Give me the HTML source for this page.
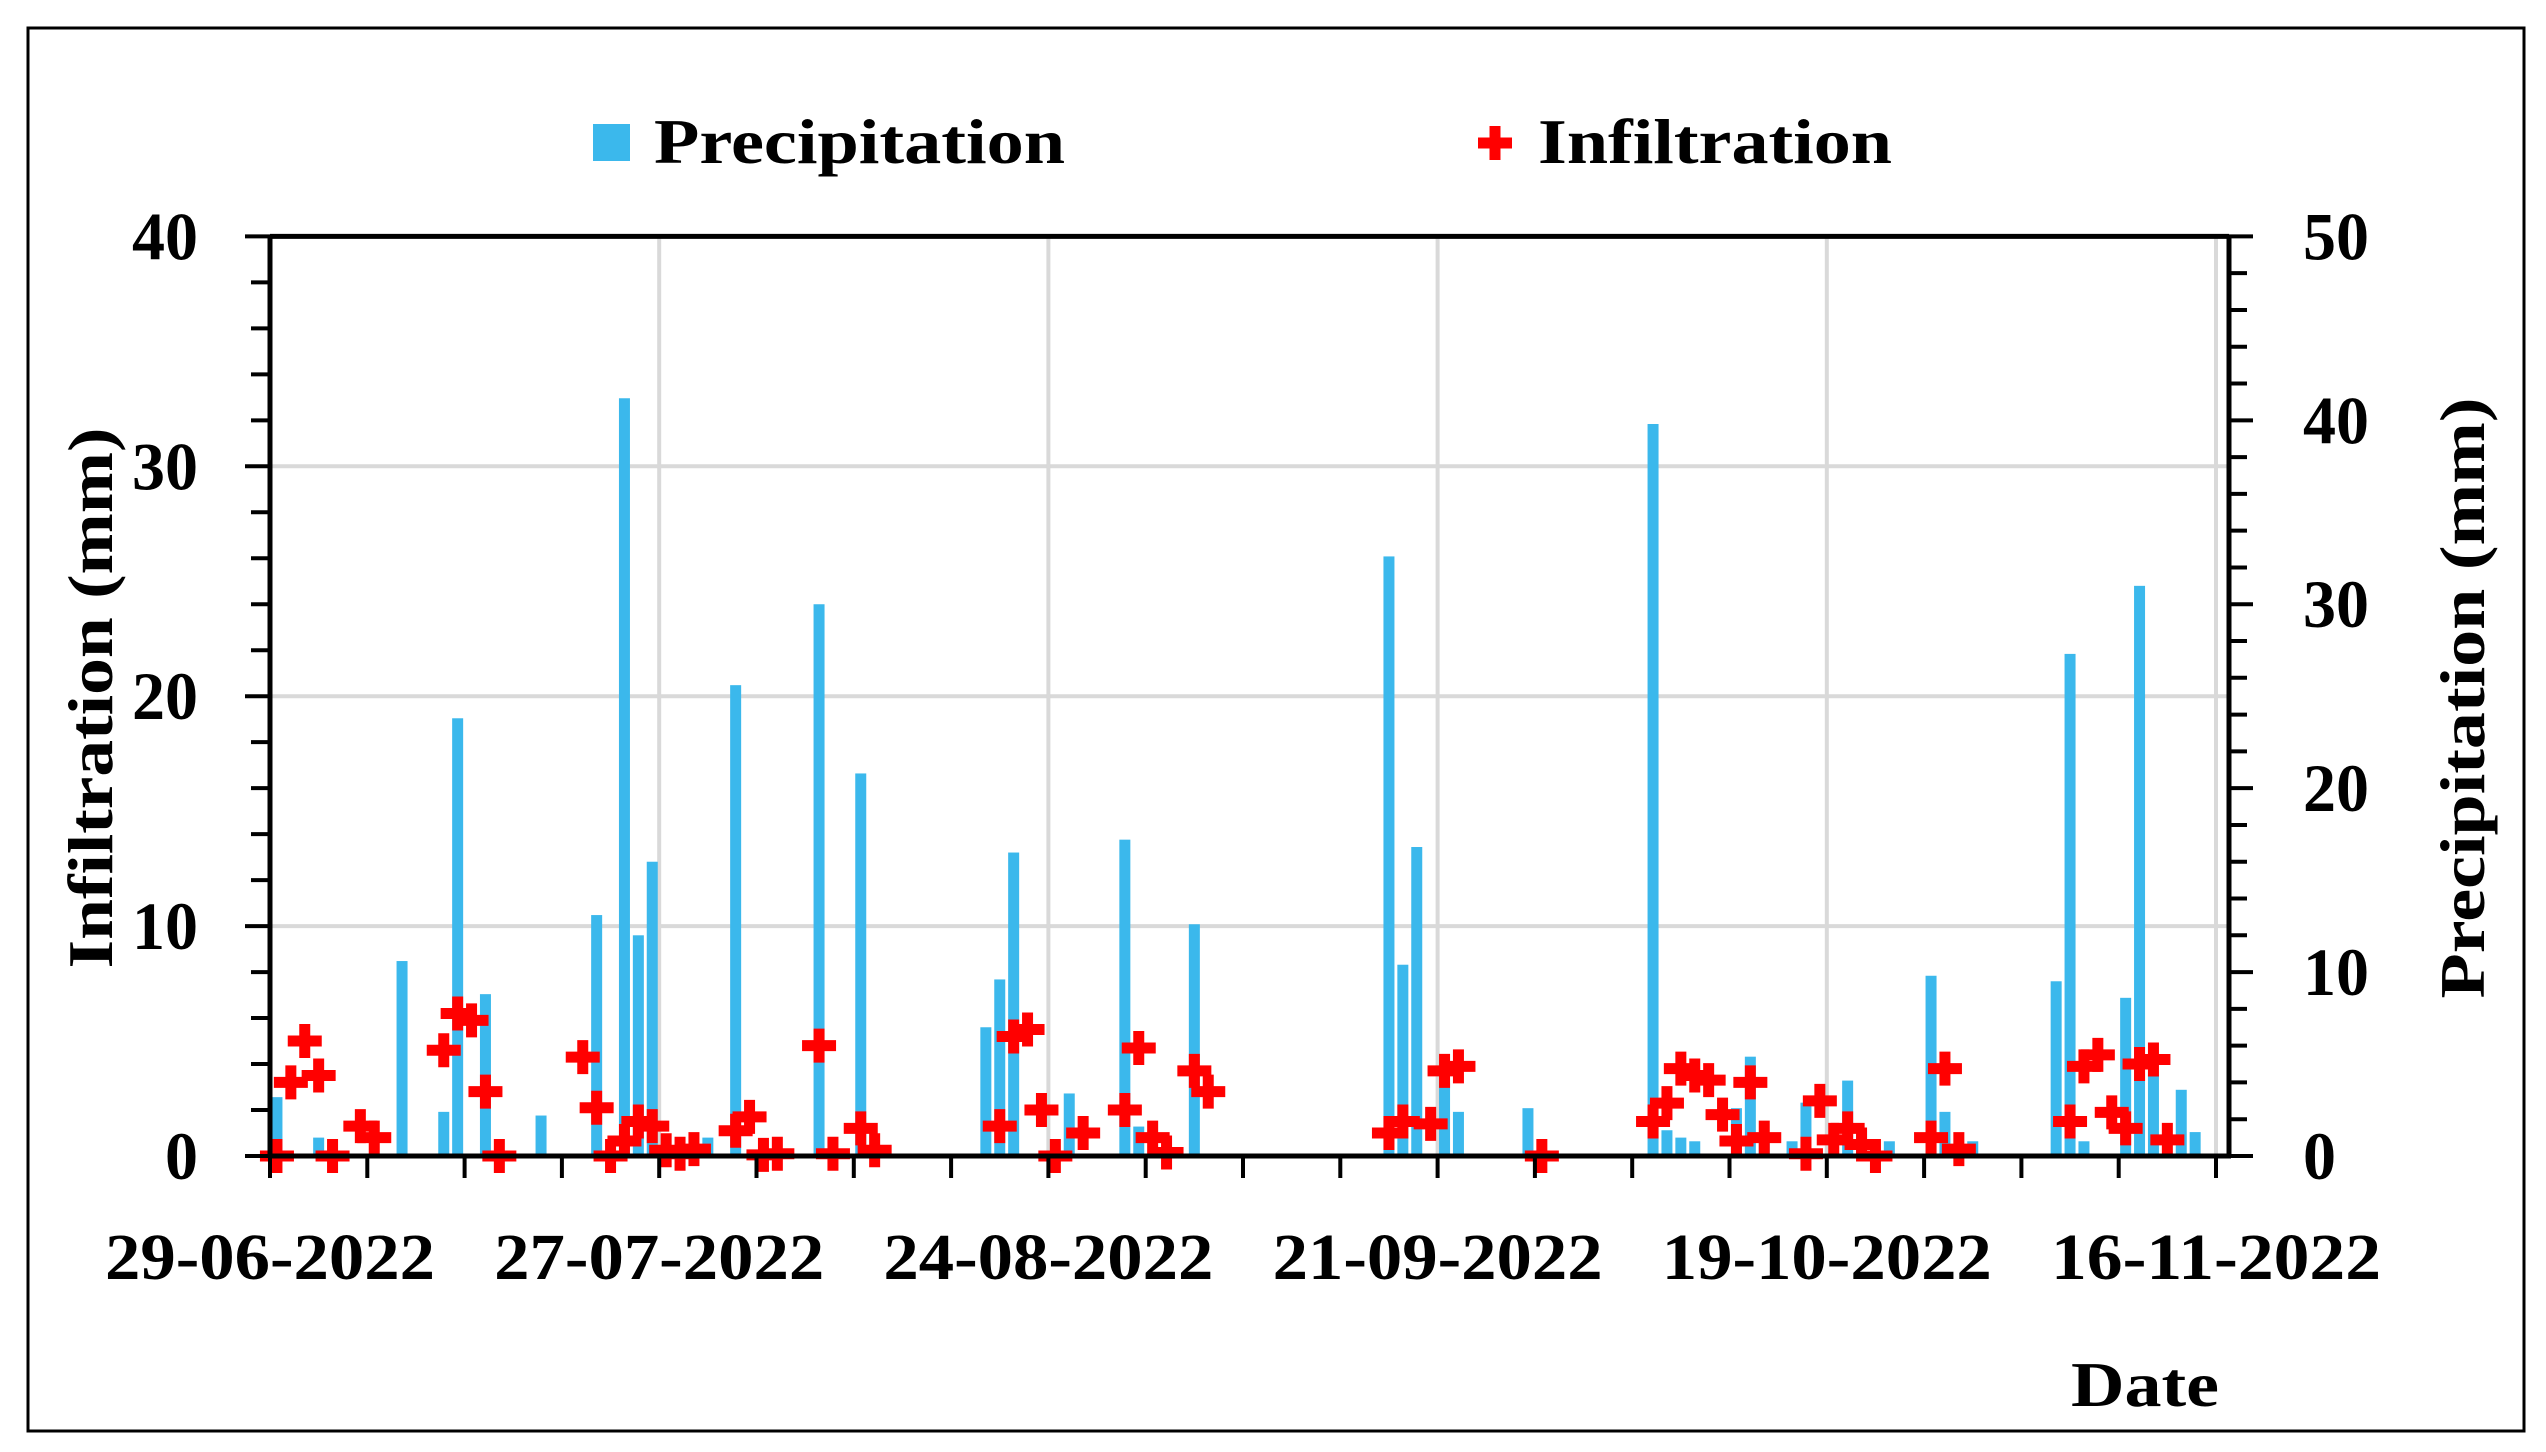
<!DOCTYPE html>
<html><head><meta charset="utf-8"><style>
html,body{margin:0;padding:0;background:#fff}
svg{display:block}
text{font-family:"Liberation Serif",serif;font-weight:bold;fill:#000}
</style></head><body>
<svg id="chart" width="2546" height="1452" viewBox="0 0 2546 1452" xmlns="http://www.w3.org/2000/svg">
<rect x="28" y="28" width="2496" height="1403" fill="#fff" stroke="#000" stroke-width="3"/>
<g id="grid"></g>
<g id="bars"></g>
<g id="marks"></g>
<g id="axes"></g>
<g>
<rect x="593" y="124" width="37" height="37" fill="#3bb8ec"/>
<text x="654" y="163" font-size="64" textLength="411" lengthAdjust="spacingAndGlyphs">Precipitation</text>
<path d="M1478 143h34M1495 126v34" stroke="#f00" stroke-width="11"/>
<text x="1538" y="163" font-size="64" textLength="354" lengthAdjust="spacingAndGlyphs">Infiltration</text>
</g>
<text transform="translate(112,698) rotate(-90)" text-anchor="middle" font-size="64" textLength="541" lengthAdjust="spacingAndGlyphs">Infiltration (mm)</text>
<text transform="translate(2484,698) rotate(-90)" text-anchor="middle" font-size="64" textLength="601" lengthAdjust="spacingAndGlyphs">Precipitation (mm)</text>
<text x="2145" y="1406" text-anchor="middle" font-size="64" textLength="148" lengthAdjust="spacingAndGlyphs">Date</text>
</svg>
<script>
const precipDays=[0,3,9,12,13,15,19,23,25,26,27,31,33,39,42,51,52,53,57,61,62,66,80,81,82,84,85,90,99,100,101,102,105,106,107,109,110,113,114,116,119,120,122,128,129,130,133,134,135,137,138];
const precipVals=[3.2,1.0,10.6,2.4,23.8,8.8,2.2,13.1,41.2,12.0,16.0,1.0,25.6,30.0,20.8,7.0,9.6,16.5,3.4,17.2,1.6,12.6,32.6,10.4,16.8,4.0,2.4,2.6,39.8,1.4,1.0,0.8,2.6,5.4,0.8,0.8,2.9,4.1,1.4,0.8,9.8,2.4,0.8,9.5,27.3,0.8,8.6,31.0,4.4,3.6,1.3];
const infDays=[0,1,2,3,4,6,7,12,13,14,15,16,22,23,24,25,26,27,28,29,30,33,34,35,36,39,40,42,43,52,53,54,55,56,58,61,62,63,64,66,67,80,81,83,84,85,91,99,100,101,102,103,104,105,106,107,110,111,112,113,114,115,119,120,121,129,130,131,132,133,134,135,136];
const infVals=[0,3.2,5.0,3.5,0,1.3,0.8,4.6,6.2,5.9,2.8,0,4.3,2.1,0,0.65,1.5,1.3,0.25,0.1,0.3,1.1,1.7,0.05,0.1,4.8,0.1,1.2,0.25,1.3,5.2,5.5,2.0,0,1.0,2.0,4.7,0.8,0.15,3.7,2.8,1.0,1.5,1.4,3.7,3.9,0,1.5,2.3,3.8,3.5,3.3,1.8,0.65,3.2,0.8,0.1,2.4,0.7,1.2,0.5,0,0.8,3.8,0.3,1.5,3.9,4.4,1.9,1.2,4.0,4.2,0.7];
const leftTicks=[0,10,20,30,40];
const rightTicks=[0,10,20,30,40,50];
const dateLabels=["29-06-2022","27-07-2022","24-08-2022","21-09-2022","19-10-2022","16-11-2022"];
const dateOffsets=[0,28,56,84,112,140];

const X0=270,DX=13.9,Y0=1156,YT=236.4,XL=270,XR=2229;
const xDay=d=>X0+d*DX;
const yInf=v=>Y0-(Y0-YT)*v/40;
const yPre=v=>Y0-(Y0-YT)*v/50;
const NS="http://www.w3.org/2000/svg";
function mk(tag,attrs,parent){const e=document.createElementNS(NS,tag);for(const k in attrs)e.setAttribute(k,attrs[k]);parent.appendChild(e);return e;}
const grid=document.getElementById('grid'),bars=document.getElementById('bars'),marks=document.getElementById('marks'),axes=document.getElementById('axes');

leftTicks.forEach(v=>{if(v>0&&v<40){const l=mk('line',{x1:XL,x2:XR,y1:yInf(v),y2:yInf(v),stroke:'#d9d9d9','stroke-width':4},grid);

}});
dateOffsets.forEach(d=>{if(d>0){const l=mk('line',{x1:xDay(d),x2:xDay(d),y1:YT,y2:Y0,stroke:'#d9d9d9','stroke-width':4},grid);

}});

precipDays.forEach((d,i)=>{const y=yPre(precipVals[i]);const r=mk('rect',{x:xDay(d+0.5)-5.5,y:y,width:11,height:Y0-y,fill:'#3bb8ec'},bars);

});

infDays.forEach((d,i)=>{const cx=xDay(d+0.5),cy=yInf(infVals[i]);const p=mk('path',{d:`M${cx-17} ${cy}h34M${cx} ${cy-17}v34`,stroke:'#f00','stroke-width':11},marks);

});

[[XL,YT,XR,YT],[XL,YT,XL,Y0+2],[XR,YT,XR,Y0+2],[XL-2,Y0,XR+2,Y0]].forEach(a=>{const l=mk('line',{x1:a[0],y1:a[1],x2:a[2],y2:a[3],stroke:'#000','stroke-width':5},axes);

});
for(let v=0;v<=40;v+=2){const l=mk('line',{x1:XL-(v%10==0?25:19),x2:XL,y1:yInf(v),y2:yInf(v),stroke:'#000','stroke-width':4},axes);

}
for(let v=0;v<=50;v+=2){const l=mk('line',{x1:XR,x2:XR+(v%10==0?24:18),y1:yPre(v),y2:yPre(v),stroke:'#000','stroke-width':4},axes);

}
for(let d=0;d<=140;d+=7){const l=mk('line',{x1:xDay(d),x2:xDay(d),y1:Y0,y2:Y0+22,stroke:'#000','stroke-width':4},axes);

}
leftTicks.forEach(v=>{const s=String(v);const t=mk('text',{x:198,y:yInf(v)+23,'text-anchor':'end','font-size':68,textLength:s.length*33,lengthAdjust:'spacingAndGlyphs'},axes);t.textContent=s;

});
rightTicks.forEach(v=>{const s=String(v);const t=mk('text',{x:2303,y:yPre(v)+23,'text-anchor':'start','font-size':68,textLength:s.length*33,lengthAdjust:'spacingAndGlyphs'},axes);t.textContent=s;

});
dateLabels.forEach((s,i)=>{const t=mk('text',{x:xDay(dateOffsets[i])-165,y:1279,'font-size':66,textLength:330,lengthAdjust:'spacingAndGlyphs'},axes);t.textContent=s;

});
</script>
</body></html>
